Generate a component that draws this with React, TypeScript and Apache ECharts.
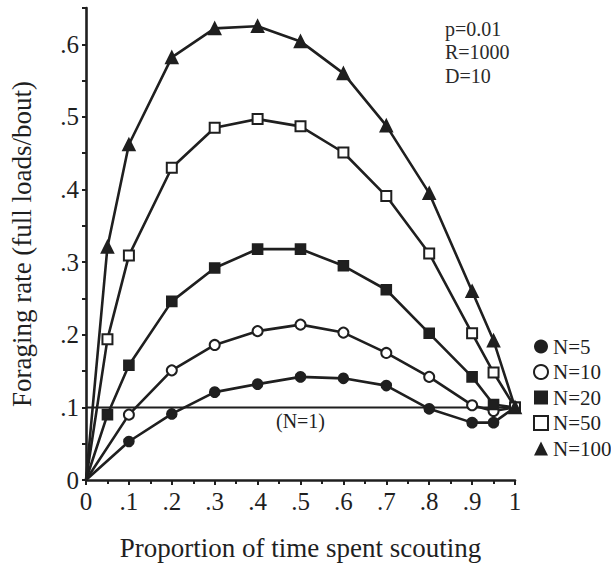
import React, { useEffect, useRef } from "react";
import * as echarts from "echarts";

const xValues = [0, 0.05, 0.1, 0.2, 0.3, 0.4, 0.5, 0.6, 0.7, 0.8, 0.9, 0.95, 1];
const n5 = [0, null, 0.053, 0.091, 0.121, 0.132, 0.142, 0.14, 0.13, 0.098, 0.079, 0.079, 0.1];
const n10 = [0, null, 0.09, 0.151, 0.186, 0.205, 0.214, 0.203, 0.175, 0.142, 0.103, 0.095, 0.1];
const n20 = [0, 0.09, 0.158, 0.246, 0.292, 0.318, 0.318, 0.295, 0.262, 0.202, 0.142, 0.104, 0.1];
const n50 = [0, 0.194, 0.309, 0.43, 0.485, 0.497, 0.487, 0.451, 0.391, 0.312, 0.202, 0.148, 0.1];
const n100 = [0, 0.321, 0.462, 0.582, 0.622, 0.625, 0.604, 0.56, 0.488, 0.395, 0.26, 0.192, 0.1];
const n1X = [0, 0.5, 1];
const n1 = [0.1, 0.1, 0.1];

const seriesNames = ["N=5", "N=10", "N=20", "N=50", "N=100"];
const seriesSymbols = ["circle", "emptyCircle", "rect", "emptyRect", "triangle"];
const seriesValues = [n5, n10, n20, n50, n100];
const legendIcons = ["circle", "circle", "rect", "rect", "triangle"];
const legendEmpty = [false, true, false, true, false];

const xTicks = ["0", ".1", ".2", ".3", ".4", ".5", ".6", ".7", ".8", ".9", "1"];
const yTicks = ["0", ".1", ".2", ".3", ".4", ".5", ".6"];

const INK = "#1f1f1f";
const FONT = "Liberation Serif";

export default function App() {
  const ref = useRef<HTMLDivElement>(null);
  useEffect(() => {
    if (!ref.current) return;
    const chart = echarts.init(ref.current, null, { renderer: "svg" });
    const mainSeries = seriesValues.map((vals, si) => ({
      name: seriesNames[si],
      type: "line",
      connectNulls: true,
      symbol: seriesSymbols[si],
      symbolSize: si === 4 ? 12 : 10,
      showSymbol: true,
      lineStyle: { color: INK, width: 2.6 },
      itemStyle: { color: INK, borderColor: INK, borderWidth: 1.6 },
      emphasis: { disabled: true },
      data: xValues.map((x, i) =>
        vals[i] === null
          ? [x, null]
          : i === 0
          ? { value: [x, vals[i]], symbol: "none" }
          : [x, vals[i]]
      ),
      z: 3,
    }));
    const option: any = {
      animation: false,
      textStyle: { fontFamily: FONT, color: INK },
      grid: { left: 82, right: 96, top: 8, bottom: 89 },
      xAxis: {
        type: "value",
        min: 0,
        max: 1,
        interval: 0.1,
        name: "Proportion of time spent scouting",
        nameLocation: "middle",
        nameGap: 54,
        nameTextStyle: { fontFamily: FONT, fontSize: 27, color: INK },
        axisLine: { show: true, lineStyle: { color: INK, width: 2.6 } },
        axisTick: { show: true, length: 5, lineStyle: { color: INK, width: 2 } },
        minorTick: { show: true, splitNumber: 2, length: 4, lineStyle: { color: INK, width: 2 } },
        splitLine: { show: false },
        axisLabel: {
          fontFamily: FONT,
          fontSize: 25,
          color: INK,
          margin: 9,
          formatter: (v: number) => xTicks[Math.round(v * 10)] ?? "",
        },
      },
      yAxis: {
        type: "value",
        min: 0,
        max: 0.65,
        interval: 0.1,
        name: "Foraging rate (full loads/bout)",
        nameLocation: "middle",
        nameGap: 51,
        nameTextStyle: { fontFamily: FONT, fontSize: 27, color: INK },
        axisLine: { show: true, lineStyle: { color: INK, width: 2.6 } },
        axisTick: { show: true, length: 4, lineStyle: { color: INK, width: 2 } },
        minorTick: { show: true, splitNumber: 2, length: 4, lineStyle: { color: INK, width: 2 } },
        splitLine: { show: false },
        axisLabel: {
          fontFamily: FONT,
          fontSize: 25,
          color: INK,
          margin: 7,
          formatter: (v: number) => {
            const k = Math.round(v * 100);
            if (k % 10 !== 0) return "";
            return yTicks[k / 10] ?? "";
          },
        },
      },
      legend: {
        orient: "vertical",
        left: 528,
        top: 331,
        itemWidth: 14,
        itemHeight: 14,
        itemGap: 4.5,
        selectedMode: false,
        textStyle: { fontFamily: FONT, fontSize: 21, color: INK, lineHeight: 21 },
        data: seriesNames.map((n, i) => ({
          name: n,
          icon: legendIcons[i],
          itemStyle: legendEmpty[i]
            ? { color: "#fff", borderColor: INK, borderWidth: 2 }
            : { color: INK, borderColor: INK, borderWidth: 0 },
        })),
      },
      graphic: [
        {
          type: "text",
          left: 445,
          top: 17,
          style: {
            text: "p=0.01\nR=1000\nD=10",
            fontFamily: FONT,
            fontSize: 20,
            lineHeight: 23.5,
            fill: "#2a2a2a",
          },
        },
      ],
      series: [
        ...mainSeries,
        {
          name: "N=1",
          type: "line",
          symbol: "circle",
          symbolSize: 0,
          showSymbol: true,
          lineStyle: { color: INK, width: 2 },
          itemStyle: { color: INK },
          emphasis: { disabled: true },
          data: n1X.map((x, i) =>
            i === 1
              ? {
                  value: [x, n1[i]],
                  label: {
                    show: true,
                    position: "bottom",
                    distance: 4,
                    formatter: "(N=1)",
                    fontFamily: FONT,
                    fontSize: 20,
                    color: INK,
                  },
                }
              : [x, n1[i]]
          ),
          z: 2,
        },
      ],
    };
    chart.setOption(option);
    return () => chart.dispose();
  }, []);
  return (
    <div
      ref={ref}
      style={{ position: "fixed", left: 0, top: 0, width: 611, height: 569, background: "#fff" }}
    />
  );
}
